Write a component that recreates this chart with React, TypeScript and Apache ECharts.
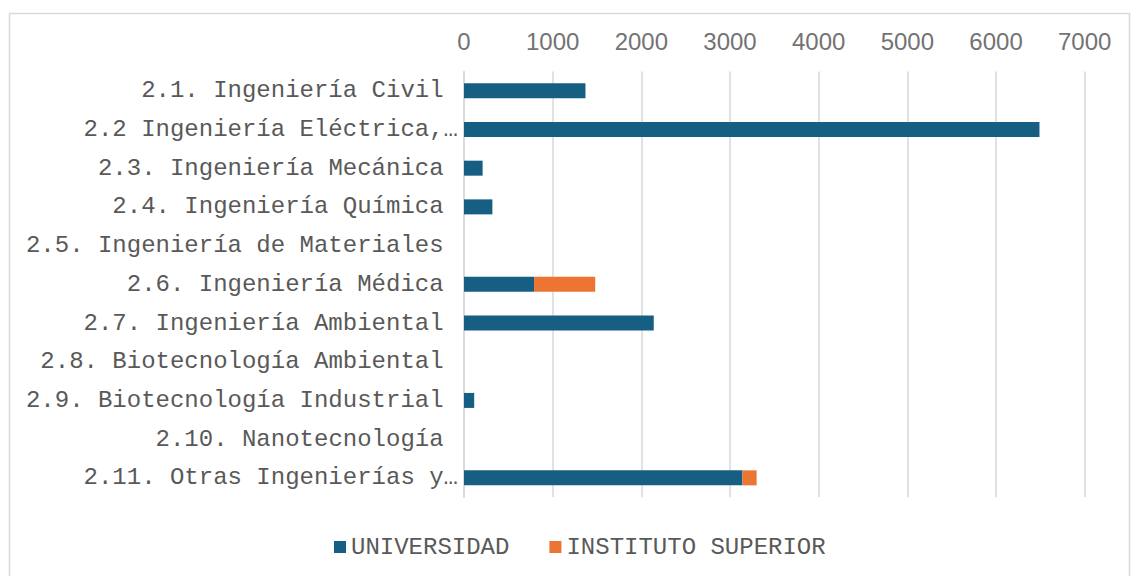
import React, { useEffect, useRef } from "react";
import * as echarts from "echarts";

const categories = [
  "2.1. Ingeniería Civil",
  "2.2 Ingeniería Eléctrica,…",
  "2.3. Ingeniería Mecánica",
  "2.4. Ingeniería Química",
  "2.5. Ingeniería de Materiales",
  "2.6. Ingeniería Médica",
  "2.7. Ingeniería Ambiental",
  "2.8. Biotecnología Ambiental",
  "2.9. Biotecnología Industrial",
  "2.10. Nanotecnología",
  "2.11. Otras Ingenierías y…",
];
const universidad = [1370, 6490, 210, 320, 0, 790, 2140, 0, 115, 0, 3140];
const institutoSuperior = [0, 0, 0, 0, 0, 690, 0, 0, 0, 0, 160];
const seriesNames = ["UNIVERSIDAD", "INSTITUTO SUPERIOR"];
const xMin = 0;
const xMax = 7000;
const xInterval = 1000;

const MONO = "'Liberation Mono', 'Courier New', monospace";

export default function App() {
  const ref = useRef<HTMLDivElement>(null);
  useEffect(() => {
    if (!ref.current) return;
    const chart = echarts.init(ref.current, undefined, { renderer: "svg" });
    chart.setOption({
      animation: false,
      backgroundColor: "#ffffff",
      graphic: [
        {
          type: "rect",
          shape: { x: 9.5, y: 13.5, width: 1120, height: 620 },
          style: { fill: "none", stroke: "#d9d9d9", lineWidth: 1.5 },
          silent: true,
        },
      ],
      grid: { left: 464, top: 71.4, width: 620.7, height: 425.8 },
      legend: {
        data: seriesNames,
        left: 334,
        top: 535,
        padding: 0,
        itemWidth: 12,
        itemHeight: 12,
        itemGap: 40,
        icon: "rect",
        textStyle: { fontFamily: MONO, fontSize: 24, color: "#595959" },
      },
      xAxis: {
        type: "value",
        position: "top",
        min: xMin,
        max: xMax,
        interval: xInterval,
        axisLine: { show: false },
        axisTick: { show: false },
        axisLabel: {
          margin: 18,
          fontFamily: "'Liberation Sans', Arial, sans-serif",
          fontSize: 24,
          color: "#737373",
          formatter: (v: number) => String(v),
        },
        splitLine: { show: true, lineStyle: { color: "#d9d9d9", width: 1.5 } },
      },
      yAxis: {
        type: "category",
        data: categories,
        inverse: true,
        axisLine: { show: true, lineStyle: { color: "#d9d9d9", width: 1.5 } },
        axisTick: { show: false },
        axisLabel: {
          margin: 6,
          fontFamily: MONO,
          fontSize: 24,
          color: "#595959",
          formatter: (v: string) => (v.endsWith("…") ? v : v + "\u00a0"),
        },
      },
      series: [
        {
          name: seriesNames[0],
          type: "bar",
          stack: "total",
          data: universidad,
          barWidth: 15,
          itemStyle: { color: "#175f82" },
        },
        {
          name: seriesNames[1],
          type: "bar",
          stack: "total",
          data: institutoSuperior,
          barWidth: 15,
          itemStyle: { color: "#ec7534" },
        },
      ],
    });
    return () => chart.dispose();
  }, []);
  return (
    <div
      ref={ref}
      style={{ position: "fixed", left: 0, top: 0, width: 1131, height: 576 }}
    />
  );
}
